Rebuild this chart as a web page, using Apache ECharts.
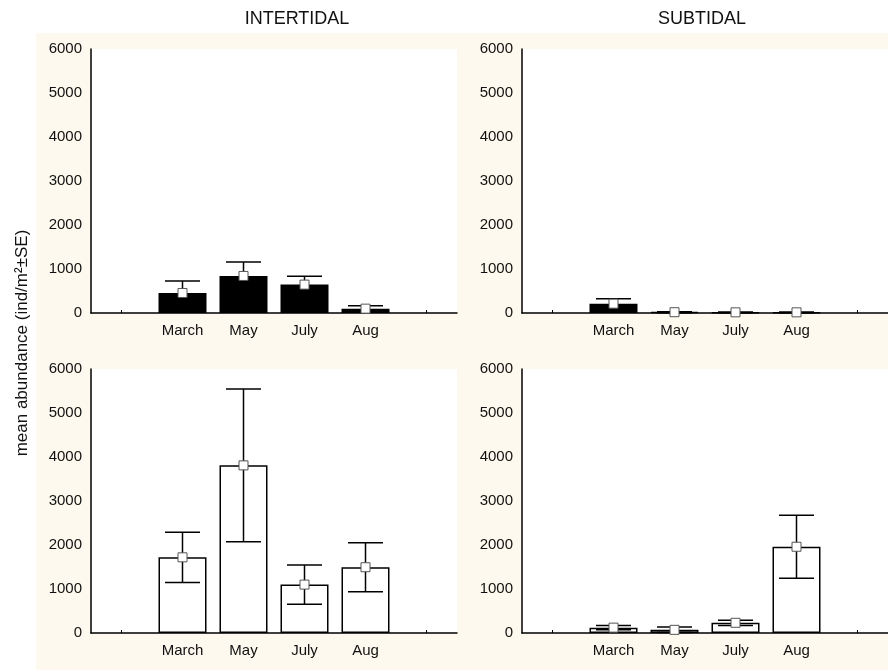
<!DOCTYPE html>
<html>
<head>
<meta charset="utf-8">
<script src="https://cdn.jsdelivr.net/npm/echarts@6/dist/echarts.min.js"></script>
<style>
html,body{margin:0;padding:0;background:#fff;}
#chart{width:888px;height:670px;}
</style>
</head>
<body>
<div id="chart"></div>
<script>
// ---- data ----
const months = ['March', 'May', 'July', 'Aug'];
const panelTitles = ['INTERTIDAL', 'SUBTIDAL'];
const yTitle = 'mean abundance (ind/m\u00B2\u00B1SE)';
const yTicks = [0, 1000, 2000, 3000, 4000, 5000, 6000];

// top row (black bars)
const interTopMean = [455, 842, 645, 99];
const interTopSE   = [273, 319, 190, 68];
const subTopMean   = [212, 18, 15, 15];
const subTopSE     = [114, 12, 10, 10];
// bottom row (white bars)
const interBotMean = [1720, 3810, 1100, 1495];
const interBotSE   = [570, 1735, 445, 555];
const subBotMean   = [122, 72, 232, 1960];
const subBotSE     = [50, 62, 60, 715];

// ---- build ----
const cats = [''].concat(months, ['']);
const FONT = '"Liberation Sans", Arial, sans-serif';
const pad = arr => [null].concat(arr, [null]);

const panels = [
  { mean: interTopMean, se: interTopSE, left: 91,  top: 49,  fill: '#000' },
  { mean: subTopMean,   se: subTopSE,   left: 522, top: 49,  fill: '#000' },
  { mean: interBotMean, se: interBotSE, left: 91,  top: 369, fill: '#fff' },
  { mean: subBotMean,   se: subBotSE,   left: 522, top: 369, fill: '#fff' }
];

const grid = [], xAxis = [], yAxis = [], series = [];
panels.forEach((p, i) => {
  grid.push({
    left: p.left, top: p.top, width: 366, height: 264,
    show: true, backgroundColor: '#fff', borderWidth: 0,
    containLabel: false, outerBoundsMode: 'none'
  });
  xAxis.push({
    type: 'category', gridIndex: i, data: cats, boundaryGap: true,
    axisLine: { lineStyle: { color: '#000', width: 1.5 } },
    axisTick: { show: true, inside: true, length: 3, alignWithLabel: true, interval: 0,
                lineStyle: { color: '#000', width: 1 } },
    axisLabel: { interval: 0, color: '#111', fontSize: 15, fontFamily: FONT, margin: 10 },
    splitLine: { show: false }
  });
  yAxis.push({
    type: 'value', gridIndex: i, min: yTicks[0], max: yTicks[yTicks.length - 1], interval: 1000,
    axisLine: { show: true, lineStyle: { color: '#000', width: 1.5 } },
    axisTick: { show: false },
    axisLabel: { color: '#111', fontSize: 15, fontFamily: FONT, margin: 9,
                 formatter: v => String(v) },
    splitLine: { show: false }
  });
  series.push({
    type: 'bar', xAxisIndex: i, yAxisIndex: i, data: pad(p.mean), barWidth: 48,
    itemStyle: { color: p.fill, borderColor: '#000', borderWidth: 1.5 },
    z: 2, silent: true
  });
  const errData = p.mean.map((m, k) => [k + 1, Math.max(0, m - p.se[k]), m + p.se[k]]);
  series.push({
    type: 'custom', xAxisIndex: i, yAxisIndex: i, data: errData, z: 3, silent: true,
    renderItem: function (params, api) {
      const x = api.value(0);
      const lo = api.coord([x, api.value(1)]);
      const hi = api.coord([x, api.value(2)]);
      const hw = 17.5;
      const st = { stroke: '#000', lineWidth: 1.5 };
      return {
        type: 'group',
        children: [
          { type: 'line', shape: { x1: lo[0], y1: lo[1], x2: hi[0], y2: hi[1] }, style: st },
          { type: 'line', shape: { x1: hi[0] - hw, y1: hi[1], x2: hi[0] + hw, y2: hi[1] }, style: st },
          { type: 'line', shape: { x1: lo[0] - hw, y1: lo[1], x2: lo[0] + hw, y2: lo[1] }, style: st }
        ]
      };
    }
  });
  series.push({
    type: 'scatter', xAxisIndex: i, yAxisIndex: i, data: pad(p.mean),
    symbol: 'rect', symbolSize: 9, z: 4, silent: true,
    itemStyle: { color: '#fff', borderColor: '#555', borderWidth: 1, opacity: 1 }
  });
});

const graphic = [
  { type: 'rect', z: -100, shape: { x: 36, y: 33, width: 852, height: 637 }, style: { fill: '#FDF9EE' } },
  { type: 'text', x: 297, y: 19, style: { text: panelTitles[0], align: 'center', verticalAlign: 'middle',
      fill: '#111', fontSize: 18, fontFamily: FONT } },
  { type: 'text', x: 702, y: 19, style: { text: panelTitles[1], align: 'center', verticalAlign: 'middle',
      fill: '#111', fontSize: 18, fontFamily: FONT } },
  { type: 'text', x: 22, y: 343, rotation: Math.PI / 2, style: { text: yTitle, align: 'center', verticalAlign: 'middle',
      fill: '#111', fontSize: 17, fontFamily: FONT } }
];

const chart = echarts.init(document.getElementById('chart'), null, { renderer: 'canvas' });
chart.setOption({
  animation: false,
  backgroundColor: '#fff',
  grid, xAxis, yAxis, series, graphic
});
</script>
</body>
</html>
